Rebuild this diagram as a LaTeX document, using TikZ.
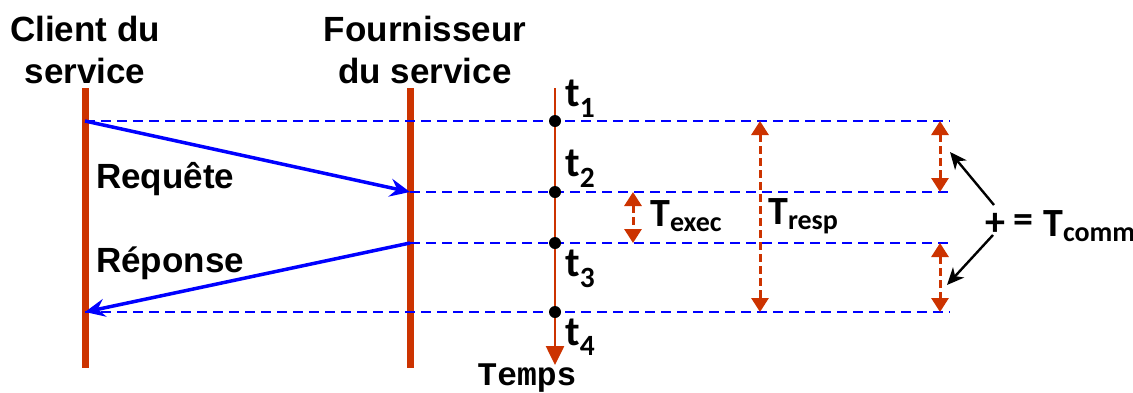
\documentclass[tikz,border=0pt]{standalone}
\usepackage{fontspec}
\setmainfont{Liberation Sans}
\newfontfamily\calfont{Carlito}
\newfontfamily\monofont{Liberation Mono}
\usetikzlibrary{arrows.meta}
\definecolor{ored}{RGB}{204,51,0}
\definecolor{mblue}{RGB}{0,0,255}
\begin{document}
\begin{tikzpicture}[x=1pt,y=-1pt,
  lifeline/.style={ored,line width=7pt},
  guide/.style={mblue,line width=1.6pt,dash pattern=on 10pt off 6pt},
  msg/.style={mblue,line width=3.5pt,-{Stealth[length=20pt,width=18pt,inset=7pt]}},
  dur/.style={ored,line width=3pt,dash pattern=on 8pt off 4pt,{Triangle[length=14pt,width=17pt]}-{Triangle[length=14pt,width=17pt]}},
  pointer/.style={black,line width=2.4pt,-{Stealth[length=17pt,width=15pt,inset=5pt]}},
  dot/.style={circle,fill=black,inner sep=0pt,minimum size=12pt},
  head/.style={font=\fontsize{35}{42}\selectfont\bfseries,align=center,inner sep=0pt},
  lab/.style={font=\fontsize{35}{40}\selectfont\bfseries,inner sep=0pt,anchor=west},
  tl/.style={font=\fontsize{42}{44}\calfont\bfseries,inner sep=0pt,anchor=west},
  Tl/.style={font=\fontsize{40}{44}\calfont\bfseries,inner sep=0pt,anchor=west}]
\useasboundingbox (0,0) rectangle (1133,392);
% headers
\node[head] (client) at (85,50) {Client du\\service};
\node[head] (prov) at (425,50) {Fournisseur\\du service};
% lifelines
\coordinate (cTop) at (85,88); \coordinate (cBot) at (85,368);
\coordinate (pTop) at (410,88); \coordinate (pBot) at (410,368);
\draw[lifeline] (cTop) -- (cBot);
\draw[lifeline] (pTop) -- (pBot);
% time axis
\coordinate (aTop) at (555,88); \coordinate (aBot) at (555,365);
\draw[ored,line width=2.6pt,-{Triangle[length=19pt,width=18pt]}] (aTop) -- (aBot);
\node[font=\fontsize{33}{36}\monofont\bfseries,inner sep=0pt] (temps) at (527,378) {Temps};
% guide lines
\coordinate (g1a) at (85,121); \coordinate (g1b) at (950,121);
\coordinate (g2a) at (410,192); \coordinate (g2b) at (950,192);
\coordinate (g3a) at (410,243); \coordinate (g3b) at (950,243);
\coordinate (g4a) at (85,312); \coordinate (g4b) at (950,312);
\draw[guide] (g1a) -- (g1b);
\draw[guide] (g2a) -- (g2b);
\draw[guide] (g3a) -- (g3b);
\draw[guide] (g4a) -- (g4b);
% messages
\draw[msg] (g1a) -- (g2a);
\draw[msg] (g3a) -- (g4a);
\node[lab] (req) at (96,179) {Requête};
\node[lab] (rep) at (96,263) {Réponse};
% dots
\node[dot] (d1) at (555,121) {};
\node[dot] (d2) at (555,192) {};
\node[dot] (d3) at (555,243) {};
\node[dot] (d4) at (555,312) {};
\node[tl] (t1) at (565,99) {t\textsubscript{1}};
\node[tl] (t2) at (565,169) {t\textsubscript{2}};
\node[tl] (t3) at (565,269) {t\textsubscript{3}};
\node[tl] (t4) at (565,337) {t\textsubscript{4}};
% durations
\coordinate (e1) at (633,192); \coordinate (e2) at (633,243);
\draw[dur] (e1) -- (e2);
\node[Tl] (texec) at (650,216) {T\textsubscript{exec}};
\coordinate (r1) at (760,121); \coordinate (r2) at (760,312);
\draw[dur] (r1) -- (r2);
\node[Tl] (tresp) at (768,216) {T\textsubscript{resp}};
\coordinate (c1) at (940,121); \coordinate (c2) at (940,192);
\coordinate (c3) at (940,243); \coordinate (c4) at (940,312);
\draw[dur] (c1) -- (c2);
\draw[dur] (c3) -- (c4);
% sum
\node[Tl,anchor=west] (plus) at (985,224) {+};
\node[Tl,anchor=west] (eq) at (1013,224) {=};
\node[Tl] (tcomm) at (1043,226) {T\textsubscript{comm}};
\coordinate (p1) at (994,205); \coordinate (p2) at (993,235);
\coordinate (q1) at (950,152); \coordinate (q2) at (947,285);
\draw[pointer] (p1) -- (q1);
\draw[pointer] (p2) -- (q2);
\end{tikzpicture}
\end{document}
